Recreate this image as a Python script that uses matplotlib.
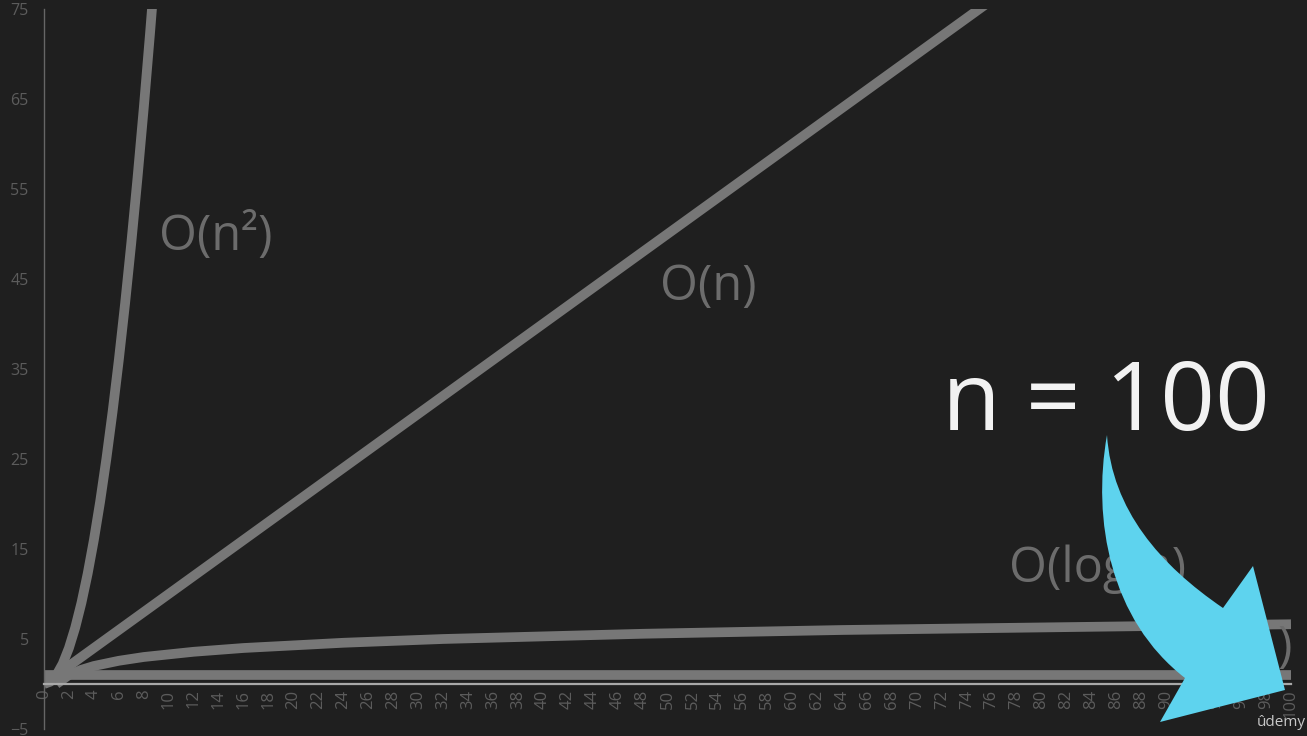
import matplotlib
matplotlib.use("Agg")
import matplotlib.pyplot as plt
from matplotlib.path import Path
from matplotlib.patches import PathPatch

plt.rcParams["font.family"] = ["Open Sans", "DejaVu Sans"]

# values
n_quad = [0, 0.5, 1, 1.5, 2, 2.5, 3, 3.5, 4, 4.5, 5, 5.5, 6, 6.5, 7, 7.5, 8, 8.5, 9]
o_n2 = [0, 0.25, 1, 2.25, 4, 6.25, 9, 12.25, 16, 20.25, 25, 30.25, 36, 42.25, 49,
        56.25, 64, 72.25, 81]
n_lin = [0, 10, 20, 30, 40, 50, 60, 70, 80]
o_n = [0, 10, 20, 30, 40, 50, 60, 70, 80]
n_log = [1, 2, 3, 4, 6, 8, 12, 16, 24, 32, 48, 64, 100]
o_logn = [0, 1, 1.58, 2, 2.58, 3, 3.58, 4, 4.58, 5, 5.58, 6, 6.64]
n_const = [0, 100]
o_1 = [1, 1]

x_ticks = list(range(0, 101, 2))
y_ticks = [-5, 5, 15, 25, 35, 45, 55, 65, 75]

BG = "#1f1f1f"
LINE = "#777777"
LABEL = "#6c6c6c"
TICK = "#5c5c5c"

W, H = 1307, 736
fig = plt.figure(figsize=(W / 100, H / 100), dpi=100, facecolor=BG)
ax = fig.add_axes([44 / W, 7 / H, (1291 - 44) / W, (729 - 9) / H])
ax.set_facecolor(BG)

kw = dict(color=LINE, lw=7, solid_capstyle="butt", solid_joinstyle="round")
ax.plot(n_const, o_1, **kw)
ax.plot(n_log, o_logn, **kw)
ax.plot(n_lin, o_n, **kw)
ax.plot(n_quad, o_n2, **kw)

ax.set_xlim(0, 100)
ax.set_ylim(-5, 75)
ax.set_xticks(x_ticks)
ax.set_yticks(y_ticks)
ax.tick_params(axis="x", length=0, pad=4, labelsize=12, colors=TICK, labelrotation=90)
ax.tick_params(axis="y", length=0, pad=11, labelsize=11.5, colors=TICK)

for s in ["top", "right"]:
    ax.spines[s].set_visible(False)
ax.spines["left"].set_color("#666666")
ax.spines["left"].set_linewidth(1)
ax.spines["bottom"].set_position(("data", 0))
ax.spines["bottom"].set_color("#a8a8a8")
ax.spines["bottom"].set_linewidth(1.6)

lab = dict(color=LABEL, fontsize=35, va="center")
ax.text(9.2, 49.6, "O(n²)", **lab)
ax.text(49.4, 44.1, "O(n)", **lab)
ax.text(77.4, 12.7, "O(log n)", **lab)
ax.text(100.1, 4.0, "O(1)", ha="right", **lab)

# overlay in pixel coords for the callout
ov = fig.add_axes([0, 0, 1, 1], zorder=5)
ov.set_xlim(0, W)
ov.set_ylim(H, 0)
ov.axis("off")
ov.patch.set_alpha(0)

ov.text(942, 430, "n = 100", color="#f2f2f2", fontsize=69, va="baseline", ha="left")

verts = [
    (1107, 435),
    (1092, 520), (1110, 620), (1185, 678),
    (1160, 722),
    (1285, 690),
    (1253, 566),
    (1223, 608),
    (1160, 565), (1112, 510), (1107, 435),
    (1107, 435),
]
codes = [Path.MOVETO,
         Path.CURVE4, Path.CURVE4, Path.CURVE4,
         Path.LINETO, Path.LINETO, Path.LINETO, Path.LINETO,
         Path.CURVE4, Path.CURVE4, Path.CURVE4,
         Path.CLOSEPOLY]
ov.add_patch(PathPatch(Path(verts, codes), facecolor="#5ed3ee", edgecolor="none"))

ov.text(1281, 723, "ûdemy", color="#c8c8c8", fontsize=11, ha="center", va="center")

fig.savefig("out.png", dpi=100, facecolor=BG)
